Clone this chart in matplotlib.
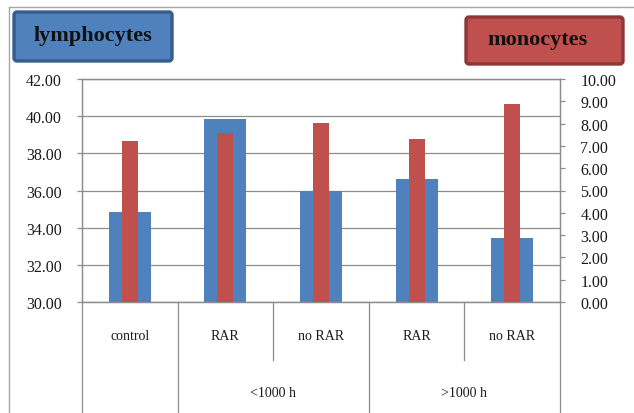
import matplotlib
matplotlib.use('Agg')

import numpy as np
import matplotlib.pyplot as plt
import matplotlib.transforms as mtransforms
from matplotlib.patches import FancyBboxPatch
from matplotlib.lines import Line2D

categories = ['control', 'RAR', 'no RAR', 'RAR', 'no RAR']
groups = ['<1000 h', '>1000 h']
lymphocytes = [34.85, 39.85, 36.0, 36.62, 33.43]
monocytes = [7.2, 7.58, 8.02, 7.3, 8.88]
left_ticks = [30, 32, 34, 36, 38, 40, 42]
right_ticks = [0, 1, 2, 3, 4, 5, 6, 7, 8, 9, 10]

BLUE = '#4F81BD'
RED = '#C0504D'
GRID = '#8C8C8C'
W, H = 634, 414

plt.rcParams['font.family'] = ['Liberation Serif', 'DejaVu Serif']

fig = plt.figure(figsize=(W / 100, H / 100), dpi=100)
ax = fig.add_axes([82 / W, (H - 303) / H, (560 - 82) / W, (303 - 80) / H])
ax2 = ax.twinx()

x = np.arange(len(categories))
ax.bar(x, lymphocytes, width=0.44, bottom=0, color=BLUE, zorder=2)
ax2.bar(x, monocytes, width=0.167, color=RED, zorder=3)

ax.set_xlim(-0.5, len(categories) - 0.5)
ax.set_ylim(30, 42)
ax2.set_ylim(0, 10)
ax.set_yticks(left_ticks)
ax.set_yticklabels([f'{v:.2f}' for v in left_ticks])
ax2.set_yticks(right_ticks)
ax2.set_yticklabels([f'{v:.2f}' for v in right_ticks])
ax.set_xticks([])

ax.yaxis.grid(True, color=GRID, linewidth=0.9, zorder=0)
ax.set_axisbelow(True)

for a in (ax, ax2):
    for s in a.spines.values():
        s.set_color(GRID)
        s.set_linewidth(0.9)
    a.tick_params(axis='y', direction='out', length=3.6, width=0.9, color=GRID,
                  pad=11, labelsize=11.5, labelcolor='#1a1a1a')

# two-level category axis under the plot
trans = mtransforms.blended_transform_factory(ax.transData, fig.dpi_scale_trans)
def ypx(v):
    return (H - v) / 100

for xs in (-0.5, 0.5, 2.5, 4.5):
    fig.add_artist(Line2D([xs, xs], [ypx(303), ypx(H + 2)], transform=trans,
                          color=GRID, linewidth=0.9, clip_on=False))
for xs in (1.5, 3.5):
    fig.add_artist(Line2D([xs, xs], [ypx(303), ypx(361)], transform=trans,
                          color=GRID, linewidth=0.9, clip_on=False))
for xi, name in zip(x, categories):
    fig.text(xi, ypx(337), name, transform=trans, ha='center', va='center',
             fontsize=10, color='#1a1a1a')
for gx, name in zip([1.5, 3.5], groups):
    fig.text(gx, ypx(394), name, transform=trans, ha='center', va='center',
             fontsize=10, color='#1a1a1a')

# outer chart frame (left and top edges)
fig.add_artist(Line2D([9 / W, 9 / W], [0, (H - 8) / H], transform=fig.transFigure,
                      color='#A6A6A6', linewidth=1))
fig.add_artist(Line2D([9 / W, 1], [(H - 8) / H, (H - 8) / H], transform=fig.transFigure,
                      color='#A6A6A6', linewidth=1))

# series name boxes
def name_box(x0, y0, x1, y1, face, edge, text, tx):
    box = FancyBboxPatch((x0 / 100, ypx(y1)), (x1 - x0) / 100, (y1 - y0) / 100,
                         boxstyle='round,pad=0,rounding_size=0.03',
                         transform=fig.dpi_scale_trans, facecolor=face,
                         edgecolor=edge, linewidth=2.4)
    fig.add_artist(box)
    fig.text(tx / 100, ypx((y0 + y1) / 2 - 1), text, transform=fig.dpi_scale_trans,
             ha='center', va='center', fontsize=16, fontweight='bold', color='#111111')

name_box(14, 13, 172, 62, BLUE, '#385D8A', 'lymphocytes', 93)
name_box(466, 18, 623, 65, RED, '#8C3836', 'monocytes', 537)

fig.savefig('out.png', dpi=100)
